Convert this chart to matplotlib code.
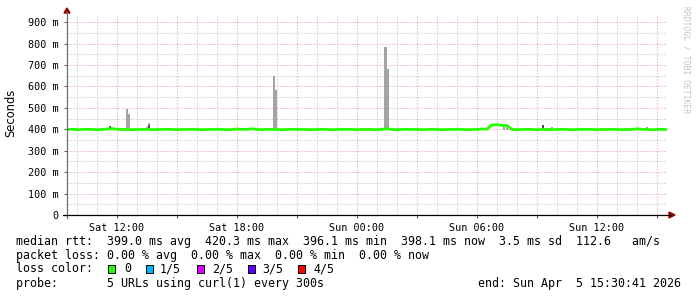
import matplotlib
matplotlib.use("Agg")
import matplotlib.pyplot as plt
from matplotlib.ticker import MultipleLocator, FuncFormatter
from matplotlib.patches import Rectangle, Polygon
from matplotlib.lines import Line2D
import numpy as np

# ---------------- data ----------------
start_hour = 9 + 30 / 60 + 41 / 3600      # Sat 09:30:41 (hours since Sat 00:00)
span_hours = 30
step_hours = 0.25                          # median sampled every 15 min

median_ms = [
    399, 400, 398, 399, 400, 399, 398, 399, 401, 403, 400, 399,
    399, 398, 399, 399, 400, 398, 399, 399, 400, 399, 398, 399,
    399, 400, 399, 398, 399, 399, 400, 399, 398, 399, 401, 399,
    400, 402, 399, 398, 400, 399, 399, 398, 399, 400, 399, 399,
    399, 398, 399, 400, 399, 398, 399, 399, 400, 399, 398, 399,
    399, 399, 398, 400, 402, 399, 398, 399, 400, 399, 399, 398,
    399, 400, 399, 398, 399, 399, 400, 399, 398, 399, 399, 401,
    401, 420, 421, 418, 418, 399, 398, 399, 400, 399, 398, 399,
    399, 398, 399, 400, 399, 398, 399, 399, 400, 399, 398, 399,
    399, 400, 399, 398, 399, 399, 402, 400, 399, 398, 399, 399,
    399,
]

# smoke (spread of individual probes), hours since start and top value in ms
smoke_light_hours = [2.05, 2.25, 3.0, 3.1, 4.0, 4.1, 7.7, 8.8, 10.0, 10.35, 10.45,
                     15.92, 16.02, 18.3, 19.8, 20.15, 21.0, 21.85, 22.0, 24.25, 29.0]
smoke_light_top = [405, 410, 494, 471, 410, 429, 405, 405, 405, 648, 583,
                   785, 681, 405, 405, 403, 405, 422, 422, 409, 410]
smoke_dark_hours = [2.15, 4.1, 23.8]
smoke_dark_top = [414, 418, 420]

x_ticks = [12, 18, 24, 30, 36]
x_tick_labels = ["Sat 12:00", "Sat 18:00", "Sun 00:00", "Sun 06:00", "Sun 12:00"]

legend_lines = [
    "median rtt:  399.0 ms avg  420.3 ms max  396.1 ms min  398.1 ms now  3.5 ms sd  112.6   am/s",
    "packet loss: 0.00 % avg  0.00 % max  0.00 % min  0.00 % now",
]
loss_labels = ["0", "1/5", "2/5", "3/5", "4/5"]
loss_colors = ["#26ff00", "#00b8ff", "#dd00ff", "#5e00ff", "#ff0000"]
probe_text = "probe:       5 URLs using curl(1) every 300s"
end_text = "end: Sun Apr  5 15:30:41 2026"

# ---------------- figure ----------------
W, H = 697, 297
fig = plt.figure(figsize=(W / 100, H / 100), dpi=100)
fig.patch.set_facecolor("white")

def fx(px):
    return px / W

def fy(py):
    return 1 - py / H

ax = fig.add_axes([fx(67), fy(215), 600 / W, 200 / H])
ax.set_facecolor("white")

t_med = [start_hour + i * step_hours for i in range(len(median_ms))]

# smoke bars
ax.bar([start_hour + h for h in smoke_light_hours],
       [v - 397 for v in smoke_light_top], bottom=397, width=0.11,
       color="#a4a4a4", align="center", zorder=2, linewidth=0)
ax.bar([start_hour + h for h in smoke_dark_hours],
       [v - 397 for v in smoke_dark_top], bottom=397, width=0.11,
       color="#505050", align="center", zorder=2.1, linewidth=0)

# median line
ax.plot(t_med, median_ms, color="#26ff00", lw=2.0, solid_capstyle="butt", zorder=3)

ax.set_xlim(start_hour, start_hour + span_hours)
ax.set_ylim(0, 933)

ax.xaxis.set_major_locator(MultipleLocator(3))
ax.xaxis.set_minor_locator(MultipleLocator(1))
ax.yaxis.set_major_locator(MultipleLocator(100))
ax.yaxis.set_minor_locator(MultipleLocator(50))

lab_map = dict(zip(x_ticks, x_tick_labels))

def xfmt(v, pos):
    k = int(round(v))
    return lab_map.get(k, "")

def yfmt(v, pos):
    if abs(v) < 1e-6:
        return "0"
    return "%d m" % int(round(v))

ax.xaxis.set_major_formatter(FuncFormatter(xfmt))
ax.yaxis.set_major_formatter(FuncFormatter(yfmt))

ax.grid(which="major", color="#e09090", linestyle=(0, (1, 2)), lw=0.72, zorder=0)
ax.grid(which="minor", color="#b8b8b8", linestyle=(0, (1, 2)), lw=0.72, zorder=0)
ax.set_axisbelow(True)

for s in ax.spines.values():
    s.set_visible(False)

ax.tick_params(axis="both", which="minor", length=0)
ax.tick_params(axis="x", which="major", length=2, width=0.8, color="#606060", pad=4,
               labelsize=7.3, labelfontfamily="DejaVu Sans Mono")
ax.tick_params(axis="y", which="major", length=2, width=0.8, color="#606060", pad=4,
               labelsize=7.3, labelfontfamily="DejaVu Sans Mono")

# axes lines & arrows
fig.add_artist(Line2D([fx(67), fx(67)], [fy(218), fy(12)], color="#707070", lw=0.9))
fig.add_artist(Line2D([fx(63), fx(670)], [fy(215), fy(215)], color="#000000", lw=0.9))
fig.add_artist(Polygon([[fx(67), fy(8)], [fx(64), fy(13)], [fx(70), fy(13)]],
                       closed=True, color="#900000", transform=fig.transFigure))
fig.add_artist(Polygon([[fx(675), fy(215)], [fx(669), fy(212)], [fx(669), fy(218)]],
                       closed=True, color="#900000", transform=fig.transFigure))

# y label
fig.text(fx(11), fy(113), "Seconds", rotation=90, ha="center", va="center",
         fontsize=8.3, family="DejaVu Sans")

# watermark
fig.text(fx(686), fy(60), "RRDTOOL / TOBI OETIKER", rotation=270, ha="center", va="center",
         fontsize=5.8, family="DejaVu Sans Mono", color="#c4c4c4")

# legend
FS = 8.4
mono = dict(family="DejaVu Sans Mono", fontsize=FS, va="center", ha="left")
fig.text(fx(16), fy(241), legend_lines[0], **mono)
fig.text(fx(16), fy(255), legend_lines[1], **mono)
fig.text(fx(16), fy(269), "loss color:", **mono)
sq_x = [108, 146, 197, 248, 298]
lab_x = [124, 160, 212, 262, 313]
for sx, lx, lab, col in zip(sq_x, lab_x, loss_labels, loss_colors):
    fig.add_artist(Rectangle((fx(sx), fy(273)), 7 / W, 8 / H, transform=fig.transFigure,
                             facecolor=col, edgecolor="black", lw=0.7))
    fig.text(fx(lx), fy(269), lab, **mono)
fig.text(fx(16), fy(283), probe_text, **mono)
fig.text(fx(681), fy(283), end_text, family="DejaVu Sans Mono", fontsize=FS,
         va="center", ha="right")

fig.savefig("out.png", dpi=100)
